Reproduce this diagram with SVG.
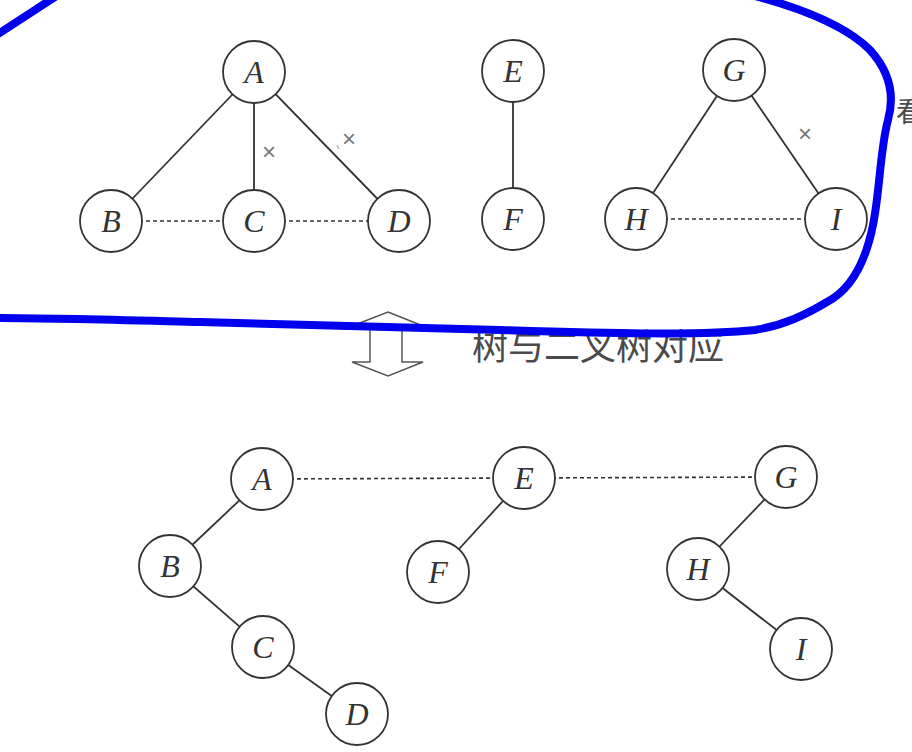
<svg xmlns="http://www.w3.org/2000/svg" width="912" height="752" viewBox="0 0 912 752">
<style>
.n circle{fill:#fff;stroke:#333;stroke-width:1.8}
.n text{font-family:"Liberation Serif",serif;font-style:italic;font-size:32px;fill:#333;text-anchor:middle}
.e{stroke:#333;stroke-width:1.8;fill:none}
.d{stroke:#333;stroke-width:1.6;stroke-dasharray:4 3;fill:none}
.x{font-family:"Liberation Sans",sans-serif;font-size:24px;fill:#777;text-anchor:middle}
.cn{font-family:"Noto Sans CJK SC",sans-serif;fill:#4a4a4a}
.blue{stroke:#0000ee;stroke-width:8;fill:none;stroke-linecap:round;stroke-linejoin:round}
</style>
<rect width="912" height="752" fill="#fff"/>
<g id="connectors">
<line class="e" x1="254" y1="72" x2="111" y2="221"/>
<line class="e" x1="254" y1="72" x2="254" y2="221"/>
<line class="e" x1="254" y1="72" x2="399" y2="221"/>
<line class="d" x1="111" y1="221" x2="254" y2="221"/>
<line class="d" x1="254" y1="221" x2="399" y2="221"/>
<line class="e" x1="513" y1="71" x2="513" y2="219"/>
<line class="e" x1="734" y1="70" x2="636" y2="219"/>
<line class="e" x1="734" y1="70" x2="836" y2="219"/>
<line class="d" x1="636" y1="219" x2="836" y2="219"/>
<line class="e" x1="262" y1="479" x2="170" y2="566"/>
<line class="e" x1="170" y1="566" x2="263" y2="647"/>
<line class="e" x1="263" y1="647" x2="357" y2="714"/>
<line class="d" x1="262" y1="479" x2="524" y2="478"/>
<line class="d" x1="524" y1="478" x2="786" y2="477"/>
<line class="e" x1="524" y1="478" x2="438" y2="572"/>
<line class="e" x1="786" y1="477" x2="698" y2="569"/>
<line class="e" x1="698" y1="569" x2="801" y2="649"/>
</g>
<text class="x" x="269" y="160">×</text>
<text class="x" x="349" y="147">×</text>
<line x1="337" y1="145" x2="339" y2="149" stroke="#999" stroke-width="1"/>
<text class="x" x="805" y="142">×</text>
<g id="tA" class="n"><circle cx="254" cy="72" r="31"/><text x="254" y="83">A</text></g>
<g id="tB" class="n"><circle cx="111" cy="221" r="31"/><text x="111" y="232">B</text></g>
<g id="tC" class="n"><circle cx="254" cy="221" r="31"/><text x="254" y="232">C</text></g>
<g id="tD" class="n"><circle cx="399" cy="221" r="31"/><text x="399" y="232">D</text></g>
<g id="tE" class="n"><circle cx="513" cy="71" r="31"/><text x="513" y="82">E</text></g>
<g id="tF" class="n"><circle cx="513" cy="219" r="31"/><text x="513" y="230">F</text></g>
<g id="tG" class="n"><circle cx="734" cy="70" r="31"/><text x="734" y="81">G</text></g>
<g id="tH" class="n"><circle cx="636" cy="219" r="31"/><text x="636" y="230">H</text></g>
<g id="tI" class="n"><circle cx="836" cy="219" r="31"/><text x="836" y="230">I</text></g>
<g id="bA" class="n"><circle cx="262" cy="479" r="31"/><text x="262" y="490">A</text></g>
<g id="bB" class="n"><circle cx="170" cy="566" r="31"/><text x="170" y="577">B</text></g>
<g id="bC" class="n"><circle cx="263" cy="647" r="31"/><text x="263" y="658">C</text></g>
<g id="bD" class="n"><circle cx="357" cy="714" r="31"/><text x="357" y="725">D</text></g>
<g id="bE" class="n"><circle cx="524" cy="478" r="31"/><text x="524" y="489">E</text></g>
<g id="bF" class="n"><circle cx="438" cy="572" r="31"/><text x="438" y="583">F</text></g>
<g id="bG" class="n"><circle cx="786" cy="477" r="31"/><text x="786" y="488">G</text></g>
<g id="bH" class="n"><circle cx="698" cy="569" r="31"/><text x="698" y="580">H</text></g>
<g id="bI" class="n"><circle cx="801" cy="649" r="31"/><text x="801" y="660">I</text></g>
<polygon points="388,312 423,326 402,326 402,362 423,362 388,376 352,362 370,362 370,326 352,326" fill="#fff" stroke="#555" stroke-width="1.5" stroke-linejoin="miter"/>
<text class="cn" x="472" y="360" font-size="36">树与二叉树对应</text>
<text class="cn" x="896" y="122" font-size="28">看</text>
<path class="blue" d="M -5,36 L 58,-5"/>
<path class="blue" d="M 755,-4 C 800,8 845,25 870,50 C 890,72 895,95 888,120 C 880,150 880,190 873,225 C 865,265 850,290 827,302 C 805,315 785,325 755,330 C 700,336 600,333 500,330 C 400,327 300,324 200,322 C 120,320 50,318 -5,318"/>
</svg>
